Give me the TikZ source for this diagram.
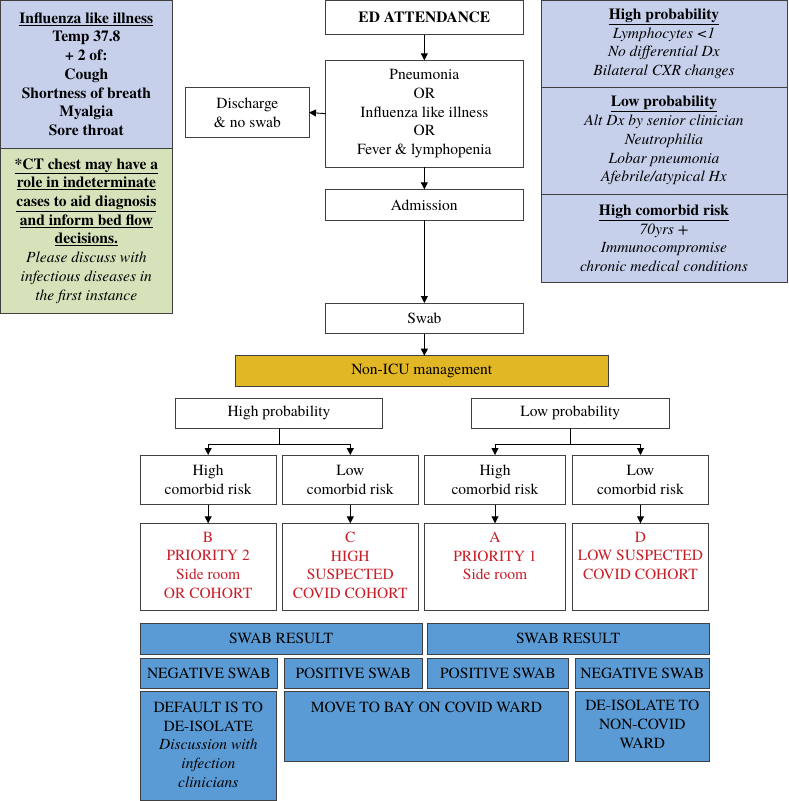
\documentclass[tikz,border=0pt]{standalone}
\usepackage{fontspec}
\setmainfont{TeX Gyre Termes}
\usetikzlibrary{arrows.meta}
\definecolor{lblue}{RGB}{198,208,235}
\definecolor{lgreen}{RGB}{214,226,186}
\definecolor{gold}{RGB}{226,183,37}
\definecolor{mblue}{RGB}{91,155,213}
\definecolor{redtxt}{RGB}{200,30,40}
\definecolor{bord}{RGB}{64,64,64}
\newcommand\myfs{\fontsize{15.5}{18.7}\selectfont}
\tikzset{
  box/.style={draw=bord, line width=0.9pt, inner sep=0pt, outer sep=0pt, align=center, font=\myfs, text=black},
  bluebox/.style={box, fill=mblue, draw=bord},
  arr/.style={line width=0.9pt, draw=black, -{Triangle[width=7pt,length=7pt]}},
  plain/.style={line width=0.9pt, draw=black},
  lbl/.style={inner sep=0pt, outer sep=0pt, align=center, font=\myfs, anchor=north},
}
\begin{document}
\begin{tikzpicture}[x=1pt,y=-1pt]
\useasboundingbox (0,0) rectangle (788,801);

% left info boxes
\node[box, fill=lblue, minimum width=172.7, minimum height=148.3, font=\myfs\bfseries] (lbox) at (86.35,74.15)
  {\underline{Influenza like illness}\\Temp 37.8\\+ 2 of:\\Cough\\Shortness of breath\\Myalgia\\Sore throat};
\node[box, fill=lgreen, minimum width=172.7, minimum height=165] (gbox) at (86.35,230.8)
  {\textbf{\underline{*CT chest may have a}}\\\textbf{\underline{role in indeterminate}}\\\textbf{\underline{cases to aid diagnosis}}\\\textbf{\underline{and inform bed flow}}\\\textbf{\underline{decisions.}}\\\textit{Please discuss with}\\\textit{infectious diseases in}\\\textit{the first instance}};

% right info boxes
\node[box, fill=lblue, minimum width=246, minimum height=87.3] (rb1) at (664,43.65)
  {\textbf{\underline{High probability}}\\\textit{Lymphocytes <1}\\\textit{No differential Dx}\\\textit{Bilateral CXR changes}};
\node[box, fill=lblue, minimum width=246, minimum height=106.7] (rb2) at (664,140.65)
  {\textbf{\underline{Low probability}}\\\textit{Alt Dx by senior clinician}\\\textit{Neutrophilia}\\\textit{Lobar pneumonia}\\\textit{Afebrile/atypical Hx}};
\node[box, fill=lblue, minimum width=246, minimum height=88.7] (rb3) at (664,238.35)
  {\textbf{\underline{High comorbid risk}}\\\textit{70yrs +}\\\textit{Immunocompromise}\\\textit{chronic medical conditions}};

% main flow
\node[box, fill=white, minimum width=197.3, minimum height=34.7, font=\myfs\bfseries] (ed) at (424.35,17.35) {ED ATTENDANCE};
\node[box, fill=white, minimum width=197.3, minimum height=106.7] (pn) at (424.35,113.65)
  {Pneumonia\\OR\\Influenza like illness\\OR\\Fever \& lymphopenia};
\node[box, fill=white, minimum width=123.3, minimum height=50.4] (dis) at (247.35,112.5) {Discharge\\\& no swab};
\node[box, fill=white, minimum width=197.3, minimum height=31] (adm) at (424.35,204.8) {Admission};
\node[box, fill=white, minimum width=197.3, minimum height=30.7] (swab) at (424.35,318.35) {Swab};
\node[box, fill=gold, minimum width=373, minimum height=30.8] (nicu) at (421.8,371.1) {Non-ICU management};
\node[box, fill=white, minimum width=206.6, minimum height=30] (hp) at (279,413.3) {High probability};
\node[box, fill=white, minimum width=197.3, minimum height=30] (lp) at (570.35,413.3) {Low probability};

% comorbid row
\node[box, minimum width=136.3, minimum height=49.7] (r1) at (208.15,479.85) {High\\comorbid risk};
\node[box, minimum width=136, minimum height=49.7] (r2) at (350.3,479.85) {Low\\comorbid risk};
\node[box, minimum width=141.4, minimum height=49.7] (r3) at (495,479.85) {High\\comorbid risk};
\node[box, minimum width=136.4, minimum height=49.7] (r4) at (640.5,479.85) {Low\\comorbid risk};

% outcome row
\node[box, minimum width=136.3, minimum height=87] (o1) at (208.15,566.8) {};
\node[box, minimum width=136, minimum height=87] (o2) at (350.3,566.8) {};
\node[box, minimum width=141.4, minimum height=87] (o3) at (495,566.8) {};
\node[box, minimum width=136.4, minimum height=87] (o4) at (640.5,566.8) {};
\node[lbl, text=redtxt] (t1) at (208.15,532) {B\\PRIORITY 2\\Side room\\OR COHORT};
\node[lbl, text=redtxt] (t2) at (350.3,532) {C\\HIGH\\SUSPECTED\\COVID COHORT};
\node[lbl, text=redtxt] (t3) at (495,532) {A\\PRIORITY 1\\Side room};
\node[lbl, text=redtxt] (t4) at (640.5,532) {D\\LOW SUSPECTED\\COVID COHORT};

% swab results
\node[bluebox, minimum width=282.3, minimum height=31] (sr1) at (281.15,638.8) {SWAB RESULT};
\node[bluebox, minimum width=282.3, minimum height=31] (sr2) at (568.15,638.8) {SWAB RESULT};
\node[bluebox, minimum width=137.7, minimum height=30] (ns1) at (208.85,673.3) {NEGATIVE SWAB};
\node[bluebox, minimum width=138, minimum height=30] (ps1) at (353.3,673.3) {POSITIVE SWAB};
\node[bluebox, minimum width=141.7, minimum height=30] (ps2) at (497.85,673.3) {POSITIVE SWAB};
\node[bluebox, minimum width=134, minimum height=30] (ns2) at (642.3,673.3) {NEGATIVE SWAB};
\node[bluebox, minimum width=136.7, minimum height=109] (def) at (208.35,746.2) {};
\node[bluebox, minimum width=284.4, minimum height=69.3] (mov) at (426.5,726.35) {};
\node[bluebox, minimum width=134, minimum height=69.3] (deis) at (642.3,726.35) {};
\node[lbl] (tdef) at (208.35,702) {DEFAULT IS TO\\DE-ISOLATE\\\textit{Discussion with}\\\textit{infection}\\\textit{clinicians}};
\node[lbl] (tmov) at (426.5,702.5) {MOVE TO BAY ON COVID WARD};
\node[lbl] (tdeis) at (642.3,700.5) {DE-ISOLATE TO\\NON-COVID\\WARD};

% connectors
\draw[arr] (ed.south) -- (pn.north);
\draw[arr] (pn.west) -- (dis.east);
\draw[arr] (pn.south) -- (adm.north);
\draw[arr] (adm.south) -- (swab.north);
\draw[arr] (swab.south) -- (swab.south |- nicu.north);

\coordinate (hpj) at (279,444.3);
\coordinate (lpj) at (570.35,444.3);
\draw[plain] (hp.south) -- (hpj);
\draw[arr] (hpj) -| (r1.north);
\draw[arr] (hpj) -| (r2.north);
\draw[plain] (lp.south) -- (lpj);
\draw[arr] (lpj) -| (r3.north);
\draw[arr] (lpj) -| (r4.north);

\draw[arr] (r1.south) -- (o1.north);
\draw[arr] (r2.south) -- (o2.north);
\draw[arr] (r3.south) -- (o3.north);
\draw[arr] (r4.south) -- (o4.north);
\end{tikzpicture}
\end{document}
